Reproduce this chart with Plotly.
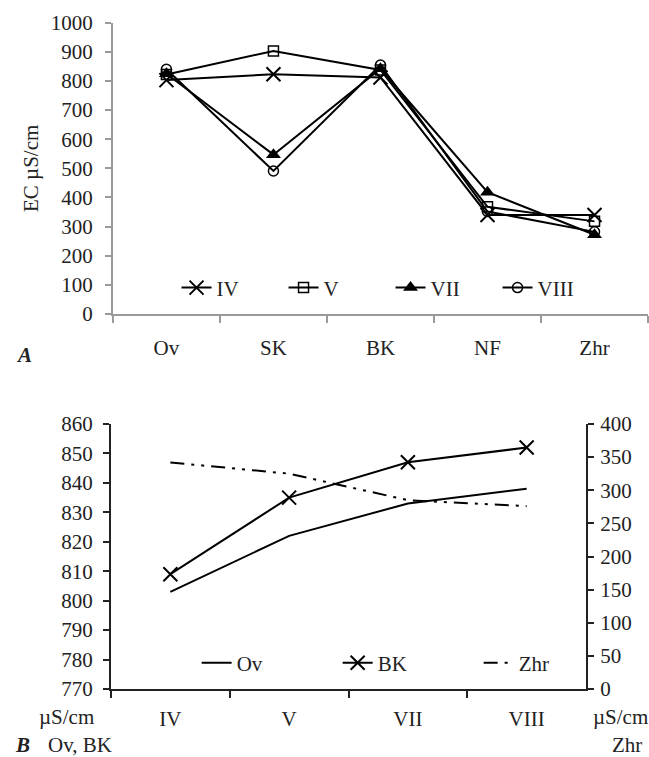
import plotly.graph_objects as go

# ---- Data: panel A ----
sites = ["Ov", "SK", "BK", "NF", "Zhr"]
ec_iv = [803, 823, 812, 340, 340]
ec_v = [822, 903, 838, 368, 318]
ec_vii = [825, 547, 842, 418, 272]
ec_viii = [840, 491, 855, 352, 282]

# ---- Data: panel B ----
months = ["IV", "V", "VII", "VIII"]
ov_vals = [803, 822, 833, 838]
bk_vals = [809, 835, 847, 852]
zhr_vals = [342, 325, 285, 276]

FONT = "Liberation Serif, Times New Roman, serif"
FS = 21
GRAY = "#9a9a9a"
DARK = "#222222"

fig = go.Figure()

line = dict(color="black", width=2)
fig.add_trace(go.Scatter(x=sites, y=ec_iv, name="IV", mode="lines+markers", line=line,
                         marker=dict(symbol="x-thin", size=14, line=dict(width=2, color="black"), color="black"),
                         xaxis="x", yaxis="y", legend="legend"))
fig.add_trace(go.Scatter(x=sites, y=ec_v, name="V", mode="lines+markers", line=line,
                         marker=dict(symbol="square-open", size=10, line=dict(width=1.5), color="black"),
                         xaxis="x", yaxis="y", legend="legend"))
fig.add_trace(go.Scatter(x=sites, y=ec_vii, name="VII", mode="lines+markers", line=line,
                         marker=dict(symbol="triangle-up", size=13, color="black"),
                         xaxis="x", yaxis="y", legend="legend"))
fig.add_trace(go.Scatter(x=sites, y=ec_viii, name="VIII", mode="lines+markers", line=line,
                         marker=dict(symbol="circle-open", size=10, line=dict(width=1.5), color="black"),
                         xaxis="x", yaxis="y", legend="legend"))

fig.add_trace(go.Scatter(x=months, y=ov_vals, name="Ov", mode="lines", line=line,
                         xaxis="x2", yaxis="y2", legend="legend2"))
fig.add_trace(go.Scatter(x=months, y=bk_vals, name="BK", mode="lines+markers", line=line,
                         marker=dict(symbol="x-thin", size=14, line=dict(width=2, color="black"), color="black"),
                         xaxis="x2", yaxis="y2", legend="legend2"))
fig.add_trace(go.Scatter(x=months, y=zhr_vals, name="Zhr", mode="lines",
                         line=dict(color="black", width=2, dash="14px,7px,3px,7px,3px,7px"),
                         xaxis="x2", yaxis="y3", legend="legend2"))

tickfont = dict(family=FONT, size=FS, color="#222")

fig.update_layout(
    width=649, height=757,
    margin=dict(l=0, r=0, t=0, b=0),
    paper_bgcolor="white", plot_bgcolor="white",
    font=dict(family=FONT, size=FS, color="#222"),
    showlegend=True,
    xaxis=dict(domain=[0.174, 0.9985], anchor="y", type="category", range=[-0.5, 4.5],
               showline=True, linecolor=GRAY, linewidth=2, ticks="outside", tickson="boundaries",
               ticklen=7, tickcolor=GRAY, tickwidth=2, showgrid=False, zeroline=False,
               tickfont=tickfont, ticklabelstandoff=14, automargin=False),
    yaxis=dict(domain=[0.5852, 0.970], anchor="x", range=[0, 1000], dtick=100,
               showline=True, linecolor=GRAY, linewidth=2, ticks="outside", ticklen=6,
               tickcolor=GRAY, tickwidth=2, showgrid=False, zeroline=False,
               tickfont=tickfont, ticklabelstandoff=8, automargin=False,
               title=dict(text="EC µS/cm", font=dict(family=FONT, size=FS, color="#222"), standoff=6)),
    xaxis2=dict(domain=[0.171, 0.903], anchor="y2", type="category", range=[-0.5, 3.5],
                showline=True, linecolor=DARK, linewidth=2, ticks="outside", tickson="boundaries",
                ticklen=7, tickcolor=DARK, tickwidth=2, showgrid=False, zeroline=False,
                tickfont=tickfont, ticklabelstandoff=10, automargin=False),
    yaxis2=dict(domain=[0.0898, 0.4399], anchor="x2", range=[770, 860], dtick=10,
                showline=True, linecolor=DARK, linewidth=2, ticks="outside", ticklen=6,
                tickcolor=DARK, tickwidth=2, showgrid=False, zeroline=False,
                tickfont=tickfont, ticklabelstandoff=6, automargin=False),
    yaxis3=dict(domain=[0.0898, 0.4399], anchor="x2", overlaying="y2", side="right",
                range=[0, 400], dtick=50,
                showline=True, linecolor=DARK, linewidth=2, ticks="outside", ticklen=6,
                tickcolor=DARK, tickwidth=2, showgrid=False, zeroline=False,
                tickfont=tickfont, ticklabelstandoff=2, automargin=False),
    legend=dict(orientation="h", x=0.272, xanchor="left", y=0.6196, yanchor="middle",
                bgcolor="rgba(0,0,0,0)", font=dict(family=FONT, size=FS, color="#222"),
                itemwidth=30, entrywidth=62, tracegroupgap=0),
    legend2=dict(orientation="h", x=0.303, xanchor="left", y=0.124, yanchor="middle",
                 bgcolor="rgba(0,0,0,0)", font=dict(family=FONT, size=FS, color="#222"),
                 itemwidth=30, entrywidth=96),
)

ann_font = dict(family=FONT, size=FS, color="#222")


def ann(text, px, py):
    return dict(text=text, x=px / 649, y=1 - py / 757, xref="paper", yref="paper",
                xanchor="center", yanchor="middle", showarrow=False, font=ann_font)


annotations = [
    ann("<b><i>A</i></b>", 24, 355),
    ann("<b><i>B</i></b>", 22, 745),
    ann("µS/cm", 66, 717),
    ann("Ov, BK", 80, 745),
    ann("µS/cm", 620, 717),
    ann("Zhr", 627, 745),
]
fig.update_layout(annotations=annotations)

fig.write_html("out.html")
